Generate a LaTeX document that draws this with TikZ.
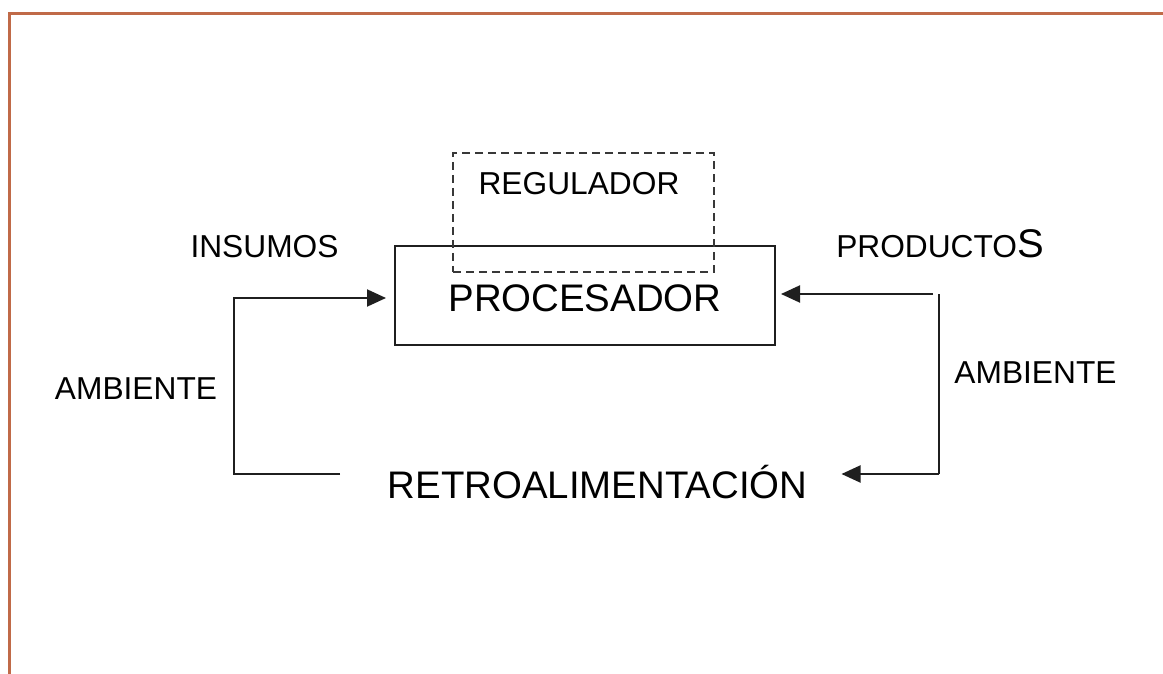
\documentclass[tikz,border=0pt]{standalone}
\usepackage{fontspec}
\setmainfont{Liberation Sans}
\usetikzlibrary{arrows.meta}
\definecolor{frame}{RGB}{192,106,72}
\begin{document}
\begin{tikzpicture}[x=1pt,y=-1pt,
  lbl/.style={inner sep=0pt,anchor=base,font=\fontsize{31.7}{32}\selectfont},
  big/.style={inner sep=0pt,anchor=base,font=\fontsize{38.4}{39}\selectfont},
  conn/.style={line width=2pt,draw=black!88},
  arr/.style={conn,-{Triangle[length=19pt,width=17pt]}}]
\useasboundingbox (0,0) rectangle (1163,674);
% frame
\draw[frame,line width=3pt] (9,674) -- (9,14) -- (1163,14);
% processor box
\node[draw=black!88,line width=2pt,minimum width=380pt,minimum height=99pt,inner sep=0pt] (box) at (585,295.5) {};
\draw[conn,line width=1.8pt] (425,245.7) -- (743,245.7);
\node[big] (proc) at (585,311) {PROCESADOR};
% regulator dashed box
\node[draw=black!78,line width=2pt,dash pattern=on 8pt off 5pt,minimum width=261pt,minimum height=119pt,inner sep=0pt] (reg) at (583.5,212.5) {};
\node[lbl] (regt) at (579,195) {REGULADOR};
% labels
\node[lbl] (ins) at (264.5,258) {INSUMOS};
\node[inner sep=0pt,anchor=base] (prod) at (940,257) {\fontsize{31.7}{32}\selectfont PRODUCTO\fontsize{40}{40}\selectfont S};
\node[lbl] (ambl) at (136,399) {AMBIENTE};
\node[lbl] (ambr) at (1035.5,383) {AMBIENTE};
\node[big] (retro) at (597.5,498) {RETROALIMENTACIÓN};
% connectors
\coordinate (lb) at (340,474);
\coordinate (rt) at (933,294);
\coordinate (rv1) at (939,294);
\coordinate (rv2) at (939,474);
\draw[arr,shorten >=8pt] (lb) -- (234,474) -- (234,298) -- (box.west |- 0,298);
\draw[arr,shorten >=5pt] (rt) -- (box.east |- rt);
\draw[conn] (rv1) -- (rv2);
\draw[arr,shorten >=34pt] (rv2) -- (retro.east |- rv2);
\end{tikzpicture}
\end{document}
